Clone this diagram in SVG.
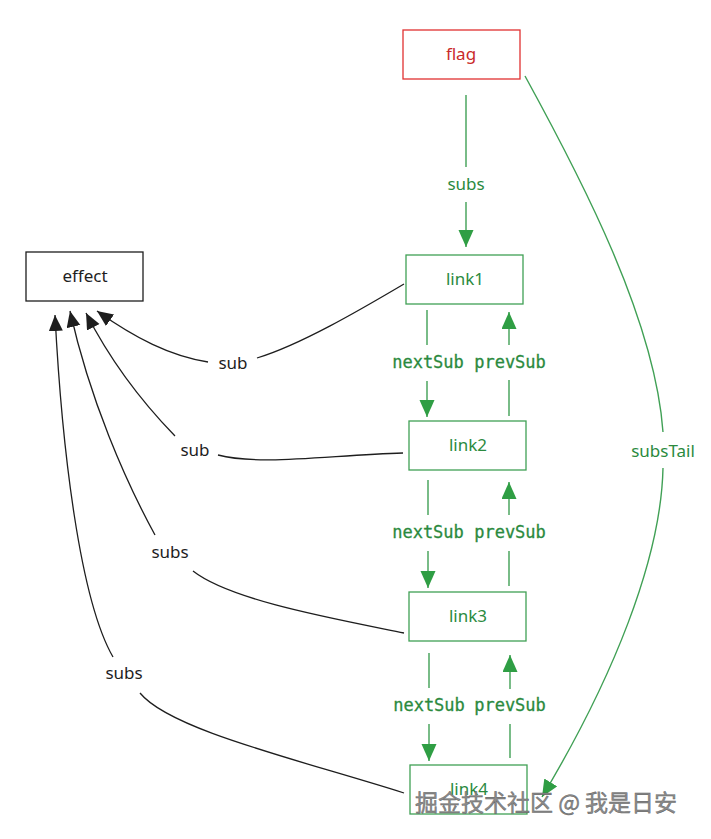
<svg xmlns="http://www.w3.org/2000/svg" width="711" height="839" viewBox="0 0 711 839">
<style>
  .bg{fill:#ffffff}
  .gbox{fill:#ffffff;stroke:#40a055;stroke-width:1.3}
  .rbox{fill:#ffffff;stroke:#e03131;stroke-width:1.3}
  .kbox{fill:#ffffff;stroke:#1e1e1e;stroke-width:1.3}
  .gl{fill:none;stroke:#40a055;stroke-width:1.4}
  .kl{fill:none;stroke:#1e1e1e;stroke-width:1.3}
  .t{font-family:"Noto Sans","Open Sans",sans-serif;font-size:17px;text-anchor:middle}
  .gt{fill:#2b8a3e}
  .rt{fill:#c92a2a}
  .kt{fill:#1e1e1e}
  .mono{font-family:"DejaVu Sans Mono","Liberation Mono",monospace;font-size:17px;text-anchor:middle;fill:#2b8a3e;stroke:#2b8a3e;stroke-width:0.3}
  .wm{font-family:"Noto Sans CJK SC","Noto Sans",sans-serif;font-size:23px;fill:#8c8c8c;stroke:#5a5a5a;stroke-width:0.4}
</style>
<defs>
  <marker id="ga" markerUnits="userSpaceOnUse" markerWidth="18" markerHeight="16" refX="17" refY="7.5" orient="auto">
    <path d="M0,0 L17,7.5 L0,15 Z" fill="#2f9e44"/>
  </marker>
  <marker id="ka" markerUnits="userSpaceOnUse" markerWidth="18" markerHeight="16" refX="16" refY="7" orient="auto">
    <path d="M0,0 L16,7 L0,14 Z" fill="#1e1e1e"/>
  </marker>
</defs>
<rect class="bg" x="0" y="0" width="711" height="839"/>

<g id="connectors">
  <path class="gl" d="M466,95 L466,167"/>
  <path class="gl" d="M466,202 L466,247" marker-end="url(#ga)"/>
  <text class="t gt" x="466" y="190">subs</text>
  <path class="gl" d="M427,310 L427,345"/>
  <path class="gl" d="M427,381 L427,417" marker-end="url(#ga)"/>
  <text class="mono" x="428" y="368">nextSub</text>
  <path class="gl" d="M509,416 L509,380"/>
  <path class="gl" d="M509,345 L509,312" marker-end="url(#ga)"/>
  <text class="mono" x="510" y="368">prevSub</text>
  <path class="gl" d="M428,480 L428,515"/>
  <path class="gl" d="M428,551 L428,588" marker-end="url(#ga)"/>
  <text class="mono" x="428" y="538">nextSub</text>
  <path class="gl" d="M509,586 L509,551"/>
  <path class="gl" d="M509,515 L509,482" marker-end="url(#ga)"/>
  <text class="mono" x="510" y="538">prevSub</text>
  <path class="gl" d="M429,653 L429,688"/>
  <path class="gl" d="M429,724 L429,761" marker-end="url(#ga)"/>
  <text class="mono" x="429" y="711">nextSub</text>
  <path class="gl" d="M510,758 L510,724"/>
  <path class="gl" d="M510,689 L510,655" marker-end="url(#ga)"/>
  <text class="mono" x="510" y="711">prevSub</text>
  <path class="gl" d="M525,76 C582,180 655,320 663,432"/>
  <path class="gl" d="M663,468 C661,560 612,680 542,797" marker-end="url(#ga)"/>
  <text class="t gt" x="663" y="457">subsTail</text>
  <path class="kl" d="M404,284 C360,310 300,345 257,358"/>
  <path class="kl" d="M208,362 C170,356 135,338 97,311" marker-end="url(#ka)"/>
  <text class="t kt" x="233" y="369">sub</text>
  <path class="kl" d="M403,453 C330,455 260,466 218,455"/>
  <path class="kl" d="M175,436 C140,400 110,360 86,313" marker-end="url(#ka)"/>
  <text class="t kt" x="195" y="456">sub</text>
  <path class="kl" d="M404,633 C330,618 230,600 193,571"/>
  <path class="kl" d="M155,535 C125,480 90,400 70,311" marker-end="url(#ka)"/>
  <text class="t kt" x="170" y="558">subs</text>
  <path class="kl" d="M404,793 C300,760 170,730 140,693"/>
  <path class="kl" d="M113,657 C80,600 62,450 55,315" marker-end="url(#ka)"/>
  <text class="t kt" x="124" y="679">subs</text>
</g>

<g id="flag">
  <rect class="rbox" x="403" y="30" width="117" height="49"/>
  <text class="t rt" x="461" y="60">flag</text>
</g>
<g id="effect">
  <rect class="kbox" x="26" y="252" width="117" height="49"/>
  <text class="t kt" x="85" y="282">effect</text>
</g>
<g id="link1">
  <rect class="gbox" x="406" y="255" width="117" height="49"/>
  <text class="t gt" x="465" y="285">link1</text>
</g>
<g id="link2">
  <rect class="gbox" x="409" y="421" width="117" height="49"/>
  <text class="t gt" x="468" y="451">link2</text>
</g>
<g id="link3">
  <rect class="gbox" x="409" y="592" width="117" height="49"/>
  <text class="t gt" x="468" y="622">link3</text>
</g>
<g id="link4">
  <rect class="gbox" x="410" y="765" width="117" height="49"/>
  <text class="t gt" x="469" y="795">link4</text>
</g>
<g id="watermark">
  <text class="wm" x="415" y="811">掘金技术社区 @ 我是日安</text>
</g>
</svg>
